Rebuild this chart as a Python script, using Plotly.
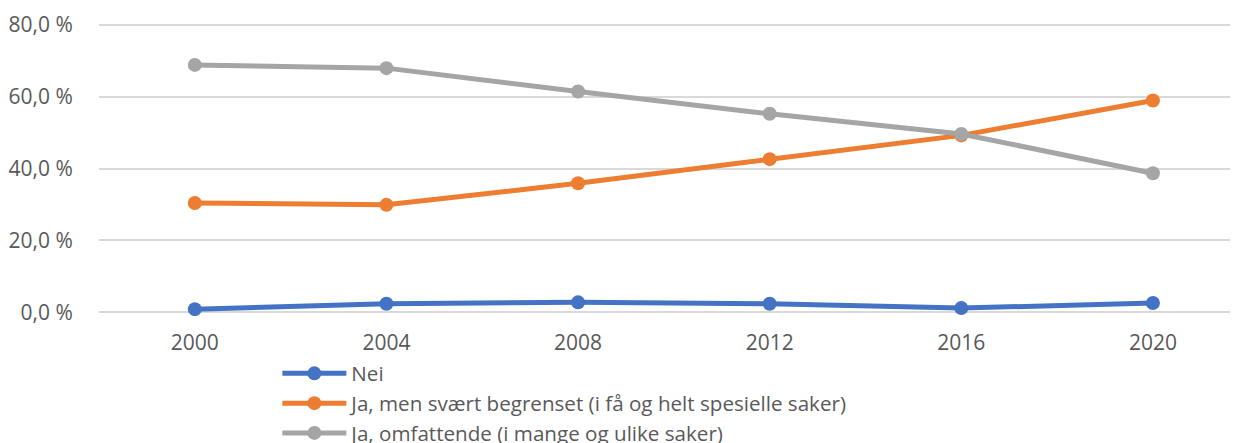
import plotly.graph_objects as go

years = ["2000", "2004", "2008", "2012", "2016", "2020"]
nei = [0.9, 2.4, 2.8, 2.4, 1.2, 2.6]
begrenset = [30.4, 29.9, 35.9, 42.6, 49.2, 58.9]
omfattende = [68.8, 67.9, 61.4, 55.2, 49.6, 38.7]
y_tickvals = [0, 20, 40, 60, 80]
y_ticktext = ["0,0 %", "20,0 %", "40,0 %", "60,0 %", "80,0 %"]

series = [
    ("Nei", nei, "#4472C4"),
    ("Ja, men svært begrenset (i få og helt spesielle saker)", begrenset, "#ED7D31"),
    ("Ja, omfattende (i mange og ulike saker)", omfattende, "#A5A5A5"),
]

fig = go.Figure()
for i, (name, vals, col) in enumerate(series):
    fig.add_trace(go.Scatter(
        x=years, y=vals, name=name, mode="lines+markers",
        line=dict(color=col, width=5),
        marker=dict(color=col, size=14),
        legendgroup=f"g{i}",
    ))

font = "'Open Sans', sans-serif"
# the page body adds an 8px offset; figure is sized to fill the rest of the window
fig.update_layout(
    width=1230, height=435,
    margin=dict(l=91, r=0, t=13, b=127, autoexpand=False),
    paper_bgcolor="white", plot_bgcolor="white",
    font=dict(family=font, size=21, color="#595959"),
    showlegend=True,
    legend=dict(x=0.1566, y=-0.127, xanchor="left", yanchor="top",
                traceorder="grouped", tracegroupgap=0, itemwidth=64,
                font=dict(family=font, size=20.6, color="#595959"),
                bgcolor="rgba(0,0,0,0)"),
    xaxis=dict(type="category", range=[-0.5, 5.444], showgrid=False,
               zeroline=False, showline=False, automargin=False,
               ticks="outside", ticklen=8, tickcolor="rgba(0,0,0,0)",
               tickfont=dict(family=font, size=21, color="#595959")),
    yaxis=dict(range=[-1, 81], tickvals=y_tickvals, ticktext=y_ticktext,
               showgrid=True, gridcolor="#D9D9D9", gridwidth=1.5,
               zeroline=False, showline=False, automargin=False,
               ticks="outside", ticklen=21, tickcolor="rgba(0,0,0,0)",
               tickfont=dict(family=font, size=21, color="#595959")),
)

fig.write_html("out.html")
